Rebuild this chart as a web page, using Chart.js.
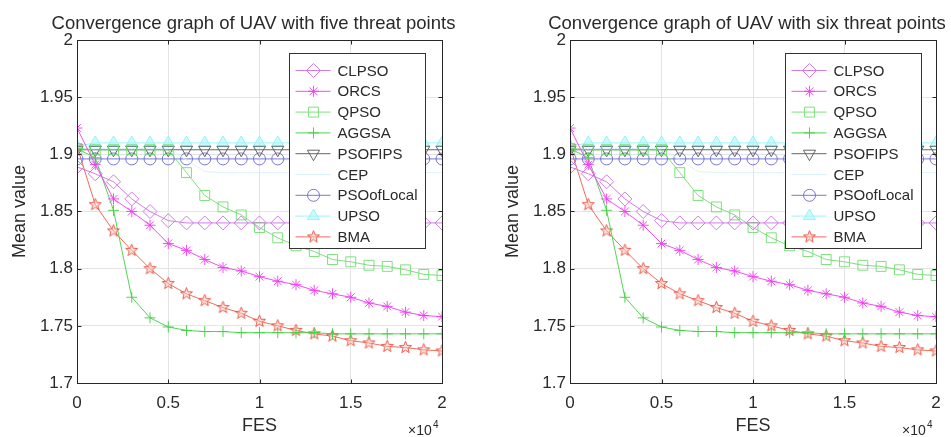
<!DOCTYPE html>
<html>
<head>
<meta charset="utf-8">
<script src="https://cdn.jsdelivr.net/npm/chart.js@4.4.0/dist/chart.umd.min.js"></script>
<style>
  html, body { margin: 0; padding: 0; background: #fff; }
  #wrap { position: relative; width: 951px; height: 437px; overflow: hidden; }
  .panel { position: absolute; top: 0; }
</style>
</head>
<body>
<div id="wrap">
  <canvas id="chartFive" class="panel" width="475" height="437" style="left:0"></canvas>
  <canvas id="chartSix" class="panel" width="458" height="437" style="left:493px"></canvas>
</div>
<script>
  // x positions (FES), one marker every 1000 evaluations
  const fes = [0, 1000, 2000, 3000, 4000, 5000, 6000, 7000, 8000, 9000, 10000,
               11000, 12000, 13000, 14000, 15000, 16000, 17000, 18000, 19000, 20000];

  const algorithms = ['CLPSO', 'ORCS', 'QPSO', 'AGGSA', 'PSOFIPS', 'CEP', 'PSOofLocal', 'UPSO', 'BMA'];

  // mean values (both panels show the same curves)
  const clpso = [1.889, 1.883, 1.876, 1.861, 1.850, 1.842, 1.840, 1.840, 1.840, 1.840, 1.840,
                 1.840, 1.840, 1.840, 1.840, 1.840, 1.840, 1.840, 1.840, 1.840, 1.840];
  const orcs = [1.923, 1.891, 1.861, 1.850, 1.838, 1.822, 1.816, 1.808, 1.801, 1.798, 1.793,
                1.789, 1.786, 1.781, 1.778, 1.775, 1.770, 1.767, 1.762, 1.759, 1.758];
  const qpso = [1.905, 1.904, 1.904, 1.904, 1.904, 1.904, 1.884, 1.864, 1.854, 1.847, 1.836,
                1.827, 1.820, 1.815, 1.808, 1.806, 1.803, 1.802, 1.799, 1.795, 1.794];
  const aggsa = [1.905, 1.897, 1.851, 1.775, 1.757, 1.749, 1.746, 1.745, 1.745, 1.744, 1.744,
                 1.744, 1.744, 1.744, 1.743, 1.743, 1.743, 1.743, 1.743, 1.743, 1.743];
  const psofips = [1.904, 1.904, 1.904, 1.904, 1.904, 1.904, 1.904, 1.904, 1.904, 1.904, 1.904,
                   1.904, 1.904, 1.904, 1.904, 1.904, 1.904, 1.904, 1.904, 1.904, 1.904];
  const cep = [1.905, 1.905, 1.905, 1.905, 1.905, 1.905, 1.895, 1.885, 1.884, 1.884, 1.884,
               1.884, 1.884, 1.884, 1.884, 1.884, 1.884, 1.884, 1.884, 1.884, 1.884];
  const psoOfLocal = [1.896, 1.896, 1.896, 1.896, 1.896, 1.896, 1.896, 1.896, 1.896, 1.896, 1.896,
                      1.896, 1.896, 1.896, 1.896, 1.896, 1.896, 1.896, 1.896, 1.896, 1.896];
  const upso = [1.907, 1.910, 1.910, 1.910, 1.910, 1.910, 1.910, 1.910, 1.910, 1.910, 1.910,
                1.910, 1.910, 1.910, 1.910, 1.910, 1.910, 1.910, 1.910, 1.910, 1.910];
  const bma = [1.907, 1.856, 1.833, 1.816, 1.800, 1.787, 1.778, 1.772, 1.766, 1.761, 1.754,
               1.750, 1.746, 1.743, 1.741, 1.737, 1.735, 1.732, 1.731, 1.729, 1.728];

  const seriesValues = [clpso, orcs, qpso, aggsa, psofips, cep, psoOfLocal, upso, bma];

  const FONT = 'Liberation Sans, Arial, Helvetica, sans-serif';
  const TEXT = '#2a2a2a';

  // MATLAB pentagram marker for BMA
  function makePentagram(r) {
    const c = document.createElement('canvas');
    const s = Math.ceil(r * 2 + 4);
    c.width = s; c.height = s;
    const g = c.getContext('2d');
    g.beginPath();
    for (let i = 0; i < 10; i++) {
      const rad = (i % 2 === 0) ? r : r * 0.42;
      const a = -Math.PI / 2 + i * Math.PI / 5;
      const px = s / 2 + rad * Math.cos(a), py = s / 2 + rad * Math.sin(a);
      i === 0 ? g.moveTo(px, py) : g.lineTo(px, py);
    }
    g.closePath();
    g.fillStyle = 'rgba(255,200,190,0.45)';
    g.fill();
    g.strokeStyle = '#e4503e';
    g.lineWidth = 0.9;
    g.stroke();
    return c;
  }
  const pentagram = makePentagram(6.3);

  const styles = [
    { color: '#cc6fe0', fill: 'rgba(255,255,255,0)', point: 'rectRot', radius: 7, rot: 0 },
    { color: '#f03cf0', fill: '#f03cf0', point: 'star', radius: 5.5, rot: 0 },
    { color: '#6fdc6f', fill: 'rgba(255,255,255,0)', point: 'rect', radius: 7, rot: 0 },
    { color: '#3fcf3f', fill: '#3fcf3f', point: 'cross', radius: 5.5, rot: 0 },
    { color: '#555555', fill: 'rgba(255,255,255,0)', point: 'triangle', radius: 7, rot: 180 },
    { color: '#d8f2fb', fill: '#d8f2fb', point: 'circle', radius: 0, rot: 0 },
    { color: '#6a6ad0', fill: 'rgba(255,255,255,0)', point: 'circle', radius: 6, rot: 0 },
    { color: '#8ff2f8', fill: 'rgba(170,245,250,0.6)', point: 'triangle', radius: 7, rot: 0 },
    { color: '#ef5a4a', fill: '#ef5a4a', point: pentagram, radius: 6.3, rot: 0 }
  ];

  function drawMarker(ctx, st, x, y) {
    if (!st.radius) return;
    if (st.point instanceof HTMLCanvasElement) {
      ctx.drawImage(st.point, x - st.point.width / 2, y - st.point.height / 2);
      return;
    }
    ctx.fillStyle = st.fill;
    ctx.strokeStyle = st.color;
    ctx.lineWidth = 0.9;
    Chart.helpers.drawPoint(ctx, { pointStyle: st.point, radius: st.radius, rotation: st.rot, borderWidth: 0.9 }, x, y);
  }

  // title, axes box, inner tick marks, legend and the x10^4 exponent
  const matlabFrame = {
    id: 'matlabFrame',
    afterDraw(chart, args, opts) {
      const { ctx, chartArea: a, scales } = chart;
      ctx.save();

      // title (centred on the axes like MATLAB, not squeezed)
      ctx.fillStyle = TEXT;
      ctx.font = '18.5px ' + FONT;
      ctx.textAlign = 'center';
      ctx.textBaseline = 'middle';
      ctx.fillText(opts.title, a.left + a.width / 2 - 6, 24);

      const L = Math.round(a.left) + 0.5, T = Math.round(a.top) + 0.5;
      const R = Math.round(a.right) + 0.5, B = Math.round(a.bottom) + 0.5;
      ctx.strokeStyle = '#262626';
      ctx.lineWidth = 1;
      ctx.strokeRect(L, T, R - L, B - T);
      ctx.beginPath();
      scales.x.ticks.forEach(t => {
        const px = Math.round(scales.x.getPixelForValue(t.value)) + 0.5;
        ctx.moveTo(px, B); ctx.lineTo(px, B - 4);
        ctx.moveTo(px, T); ctx.lineTo(px, T + 4);
      });
      scales.y.ticks.forEach(t => {
        const py = Math.round(scales.y.getPixelForValue(t.value)) + 0.5;
        ctx.moveTo(L, py); ctx.lineTo(L + 4, py);
        ctx.moveTo(R, py); ctx.lineTo(R - 4, py);
      });
      ctx.stroke();

      // legend
      const lx = Math.round(a.right - opts.legendInset) + 0.5, ly = Math.round(a.top + 13) + 0.5;
      const lw = 136, lh = 195;
      ctx.fillStyle = '#ffffff';
      ctx.fillRect(lx, ly, lw, lh);
      ctx.strokeStyle = '#333333';
      ctx.strokeRect(lx, ly, lw, lh);
      ctx.font = '15px ' + FONT;
      ctx.textBaseline = 'middle';
      ctx.textAlign = 'left';
      algorithms.forEach((name, i) => {
        const y = ly + 17 + i * 20.8;
        const st = styles[i];
        ctx.strokeStyle = st.color;
        ctx.lineWidth = 0.9;
        ctx.beginPath();
        ctx.moveTo(lx + 6, y); ctx.lineTo(lx + 41, y);
        ctx.stroke();
        drawMarker(ctx, st, lx + 24, y);
        ctx.fillStyle = TEXT;
        ctx.fillText(name, lx + 48, y + 1);
      });

      // exponent label
      ctx.fillStyle = TEXT;
      ctx.textBaseline = 'alphabetic';
      ctx.font = '14px ' + FONT;
      ctx.fillText('\u00d710', a.right - 34, a.bottom + 52);
      ctx.font = '10px ' + FONT;
      ctx.fillText('4', a.right - 9, a.bottom + 45);
      ctx.restore();
    }
  };

  function buildChart(id, title, padRight, legendInset) {
    const datasets = algorithms.map((name, i) => {
      const st = styles[i];
      return {
        label: name,
        data: fes.map((x, k) => ({ x: x, y: seriesValues[i][k] })),
        borderColor: st.color,
        backgroundColor: st.fill,
        borderWidth: 0.9,
        pointStyle: st.point,
        pointRadius: st.radius,
        pointRotation: st.rot,
        pointBorderWidth: 0.9,
        pointBorderColor: st.color,
        pointBackgroundColor: st.fill,
        tension: 0,
        fill: false
      };
    });

    return new Chart(document.getElementById(id), {
      type: 'line',
      data: { datasets: datasets },
      options: {
        responsive: false,
        animation: false,
        events: [],
        layout: { padding: { left: 0, right: padRight, top: 40, bottom: 0 } },
        plugins: {
          legend: { display: false },
          tooltip: { enabled: false },
          title: { display: false },
          matlabFrame: { legendInset: legendInset, title: title }
        },
        scales: {
          x: {
            type: 'linear',
            min: 0,
            max: 20000,
            ticks: {
              stepSize: 5000,
              maxRotation: 0,
              padding: 10,
              color: TEXT,
              font: { family: FONT, size: 17 },
              callback: v => String(v / 10000)
            },
            grid: { color: '#e4e4e4', lineWidth: 1, drawTicks: false },
            border: { display: false },
            title: { display: true, text: 'FES', color: TEXT, font: { family: FONT, size: 18 }, padding: { top: 0, bottom: 0 } },
            afterFit: s => { s.height = 54; }
          },
          y: {
            min: 1.7,
            max: 2,
            ticks: {
              stepSize: 0.05,
              padding: 4,
              color: TEXT,
              font: { family: FONT, size: 17 },
              callback: v => String(+v.toFixed(2))
            },
            grid: { color: '#e4e4e4', lineWidth: 1, drawTicks: false },
            border: { display: false },
            title: { display: true, text: 'Mean value', color: TEXT, font: { family: FONT, size: 18 }, padding: { top: 9, bottom: 0 } },
            afterFit: s => { s.width = 77; }
          }
        }
      },
      plugins: [matlabFrame]
    });
  }

  buildChart('chartFive', 'Convergence graph of UAV with five threat points', 33, 153);
  buildChart('chartSix', 'Convergence graph of UAV with six threat points', 15, 151);
</script>
</body>
</html>
